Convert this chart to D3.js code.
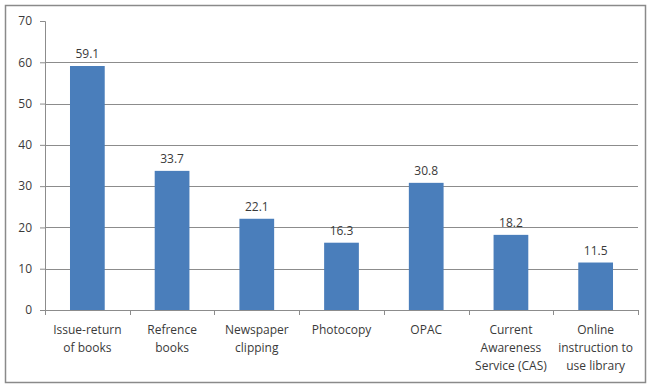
<!DOCTYPE html>
<html>
<head>
<meta charset="utf-8">
<script src="https://cdn.jsdelivr.net/npm/d3@7"></script>
<style>
  html, body { margin: 0; padding: 0; background: #fff; }
  svg { display: block; }
  text { font-family: "Open Sans", "DejaVu Sans", sans-serif; fill: #3a3a3a; }
</style>
</head>
<body>
<svg id="chart" width="647" height="385"></svg>
<script>
// Library services usage (%)
const categories = [
  ["Issue-return", "of books"],
  ["Refrence", "books"],
  ["Newspaper", "clipping"],
  ["Photocopy"],
  ["OPAC"],
  ["Current", "Awareness", "Service (CAS)"],
  ["Online", "instruction to", "use library"]
];
const values = [59.1, 33.7, 22.1, 16.3, 30.8, 18.2, 11.5];
const yTicks = [0, 10, 20, 30, 40, 50, 60, 70];

const svg = d3.select("#chart");
const W = 647, H = 385;
const margin = { left: 45, right: 9, top: 21, bottom: 75 };
const plotW = W - margin.left - margin.right;
const plotH = H - margin.top - margin.bottom;

// outer chart frame
svg.append("rect")
  .attr("x", 5.5).attr("y", 5.5)
  .attr("width", 640).attr("height", 377)
  .attr("fill", "#fff")
  .attr("stroke", "#8a8a8a").attr("stroke-width", 1.5);

const g = svg.append("g").attr("transform", `translate(${margin.left},${margin.top})`);

const x = d3.scaleBand()
  .domain(d3.range(categories.length))
  .range([0, plotW])
  .paddingInner(0.59).paddingOuter(0.295);

const y = d3.scaleLinear().domain([0, 70]).range([plotH, 0]);

// horizontal gridlines
g.append("g")
  .selectAll("line")
  .data(yTicks.filter(t => t > 0 && t < 70))
  .join("line")
  .attr("x1", 0).attr("x2", plotW)
  .attr("y1", d => Math.round(y(d)) + 0.5).attr("y2", d => Math.round(y(d)) + 0.5)
  .attr("stroke", "#8c8c8c").attr("stroke-width", 1);

// y axis
const yAxis = g.append("g")
  .call(d3.axisLeft(y).tickValues(yTicks).tickSize(5).tickPadding(8).tickFormat(d3.format("d")));
yAxis.select(".domain").attr("stroke", "#8c8c8c");
yAxis.selectAll(".tick line").attr("stroke", "#8c8c8c");
yAxis.selectAll(".tick text").attr("font-size", 12).attr("fill", "#3a3a3a")
  .style("font-family", "\"Open Sans\", sans-serif");

// bars
g.append("g")
  .selectAll("rect")
  .data(values)
  .join("rect")
  .attr("x", (d, i) => x(i))
  .attr("y", d => y(d))
  .attr("width", x.bandwidth())
  .attr("height", d => plotH - y(d))
  .attr("fill", "#4a7ebb");

// value labels
g.append("g")
  .selectAll("text")
  .data(values)
  .join("text")
  .attr("x", (d, i) => x(i) + x.bandwidth() / 2)
  .attr("y", d => y(d) - 8)
  .attr("text-anchor", "middle")
  .attr("font-size", 12)
  .text(d => d3.format(".1f")(d));

// x axis line and category separators
const step = x.step();
const xAxis = g.append("g").attr("transform", `translate(0,${plotH})`);
xAxis.append("line")
  .attr("x1", 0).attr("x2", plotW)
  .attr("y1", 0.5).attr("y2", 0.5)
  .attr("stroke", "#8c8c8c");
xAxis.selectAll("line.sep")
  .data(d3.range(categories.length + 1))
  .join("line")
  .attr("class", "sep")
  .attr("x1", i => Math.round(i * step) + 0.5)
  .attr("x2", i => Math.round(i * step) + 0.5)
  .attr("y1", 0).attr("y2", 5)
  .attr("stroke", "#8c8c8c");

// category labels
const lab = xAxis.selectAll("text.cat")
  .data(categories)
  .join("text")
  .attr("class", "cat")
  .attr("text-anchor", "middle")
  .attr("font-size", 12)
  .attr("transform", (d, i) => `translate(${x(i) + x.bandwidth() / 2},0)`);
lab.selectAll("tspan")
  .data(d => d)
  .join("tspan")
  .attr("x", 0)
  .attr("y", (d, j) => 24 + j * 18)
  .text(d => d);
</script>
</body>
</html>
